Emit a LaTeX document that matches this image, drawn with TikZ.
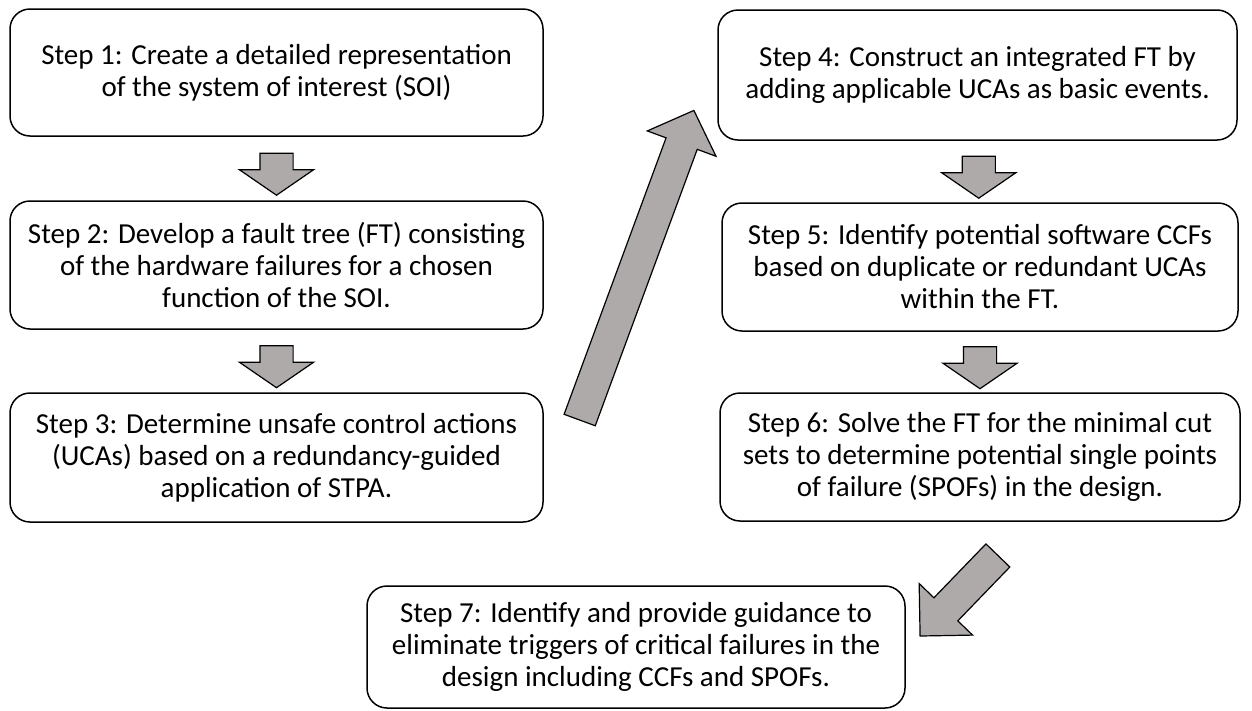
\documentclass[tikz,border=0pt]{standalone}
\usepackage{fontspec}
\setmainfont{Carlito}
\usepackage{tikz}
\usetikzlibrary{shapes.arrows, calc}
\definecolor{arrowgray}{RGB}{174,170,170}
\tikzset{
  stepbox/.style={draw, line width=1.5pt, rounded corners=20pt, align=center, inner sep=0pt, font=\fontsize{29}{32}\selectfont},
  fatarrow/.style={single arrow, draw, fill=arrowgray, line width=1.2pt, inner xsep=0pt, inner ysep=16pt, single arrow head extend=20.5pt, single arrow head indent=0pt, single arrow tip angle=111}
}

\begin{document}
\begin{tikzpicture}[x=1pt,y=-1pt]
\useasboundingbox (0,0) rectangle (1252,710);
\node[stepbox, minimum width=533pt, minimum height=127pt] (s1) at (276.5,72.5) {Step 1: Create a detailed representation\\of the system of interest (SOI)};
\node[stepbox, minimum width=533pt, minimum height=128pt] (s2) at (276.5,265) {Step 2: Develop a fault tree (FT) consisting\\of the hardware failures for a chosen\\function of the SOI.};
\node[stepbox, minimum width=533pt, minimum height=129pt] (s3) at (276.5,457.5) {Step 3: Determine unsafe control actions\\(UCAs) based on a redundancy-guided\\application of STPA.};
\node[stepbox, minimum width=519pt, minimum height=130pt] (s4) at (977.5,75) {Step 4: Construct an integrated FT by\\adding applicable UCAs as basic events.};
\node[stepbox, minimum width=516pt, minimum height=128pt] (s5) at (980,267) {Step 5: Identify potential software CCFs\\based on duplicate or redundant UCAs\\within the FT.};
\node[stepbox, minimum width=520pt, minimum height=128pt] (s6) at (980,457) {Step 6: Solve the FT for the minimal cut\\sets to determine potential single points\\of failure (SPOFs) in the design.};
\node[stepbox, minimum width=538pt, minimum height=122pt] (s7) at (636,647) {Step 7: Identify and provide guidance to\\eliminate triggers of critical failures in the\\design including CCFs and SPOFs.};
% block arrows
\node[fatarrow, minimum height=42pt, rotate=-90] (a12) at ($(s1.south)!0.5!(s2.north)$) {};
\node[fatarrow, minimum height=42pt, rotate=-90] (a23) at ($(s2.south)!0.5!(s3.north)$) {};
\node[fatarrow, minimum height=42pt, rotate=-90] (a45) at ($(s4.south)!0.5!(s5.north)$) {};
\node[fatarrow, minimum height=42pt, rotate=-90] (a56) at ($(s5.south)!0.5!(s6.north)$) {};
\node[fatarrow, minimum height=330pt, single arrow head extend=20pt, single arrow tip angle=92, rotate=69.75] (a34) at (634,272.75) {};
\node[fatarrow, minimum height=112pt, single arrow tip angle=90, rotate=226] (a67) at (964.75,589.75) {};
\end{tikzpicture}
\end{document}
